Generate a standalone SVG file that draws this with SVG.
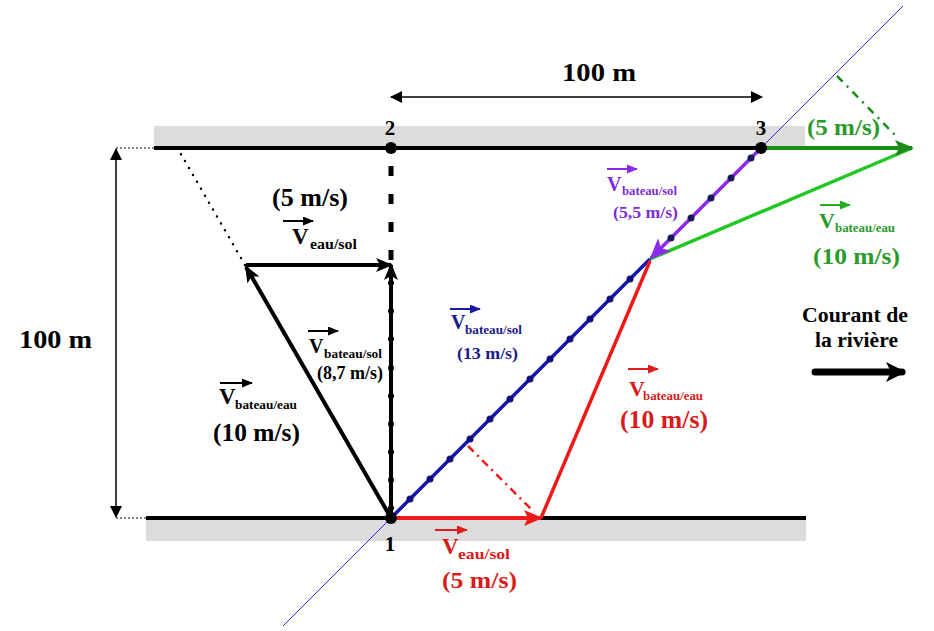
<svg xmlns="http://www.w3.org/2000/svg" width="934" height="631" viewBox="0 0 934 631">
<style>
text{font-family:"Liberation Serif","Times New Roman",serif;font-weight:bold}
.k{fill:#000}.r{fill:#d81c1c}.b{fill:#1a1a8a}.p{fill:#7a2ed6}.g{fill:#2a9a2a}
.bank{fill:#dcdcdc}
.vec{fill:none;stroke-width:4}
.lbl{stroke-width:2}
</style>
<defs>
<marker id="ahK" markerUnits="userSpaceOnUse" markerWidth="17" markerHeight="15" refX="15" refY="7" orient="auto"><path d="M0,0 L17,7 L0,14 L4,7 z" fill="#000"/></marker>
<marker id="ahR" markerUnits="userSpaceOnUse" markerWidth="19" markerHeight="17" refX="17" refY="8" orient="auto"><path d="M0,0 L19,8 L0,16 L4,8 z" fill="#ee1a1a"/></marker>
<marker id="ahP" markerUnits="userSpaceOnUse" markerWidth="21" markerHeight="19" refX="19" refY="9" orient="auto"><path d="M0,0 L21,9 L0,18 L5,9 z" fill="#8a2be8"/></marker>
<marker id="ahG" markerUnits="userSpaceOnUse" markerWidth="19" markerHeight="17" refX="17" refY="8" orient="auto"><path d="M0,0 L19,8 L0,16 L4,8 z" fill="#1a8c1a"/></marker>
<marker id="ahBig" markerUnits="userSpaceOnUse" markerWidth="20" markerHeight="20" refX="16" refY="10" orient="auto"><path d="M0,0 L20,10 L0,20 L5,10 z" fill="#000"/></marker>
<marker id="dim" markerUnits="userSpaceOnUse" markerWidth="12" markerHeight="12" refX="11" refY="6" orient="auto-start-reverse"><path d="M0,0 L12,6 L0,12 z" fill="#000"/></marker>
<marker id="smK" markerUnits="userSpaceOnUse" markerWidth="11" markerHeight="9" refX="10" refY="4.5" orient="auto"><path d="M0,0 L11,4.5 L0,9 z" fill="#000"/></marker>
<marker id="smR" markerUnits="userSpaceOnUse" markerWidth="11" markerHeight="9" refX="10" refY="4.5" orient="auto"><path d="M0,0 L11,4.5 L0,9 z" fill="#e01c1c"/></marker>
<marker id="smB" markerUnits="userSpaceOnUse" markerWidth="11" markerHeight="9" refX="10" refY="4.5" orient="auto"><path d="M0,0 L11,4.5 L0,9 z" fill="#1a1aa0"/></marker>
<marker id="smP" markerUnits="userSpaceOnUse" markerWidth="11" markerHeight="9" refX="10" refY="4.5" orient="auto"><path d="M0,0 L11,4.5 L0,9 z" fill="#8a2be8"/></marker>
<marker id="smG" markerUnits="userSpaceOnUse" markerWidth="11" markerHeight="9" refX="10" refY="4.5" orient="auto"><path d="M0,0 L11,4.5 L0,9 z" fill="#22b022"/></marker>
</defs>

<g id="banks">
<rect class="bank" x="154" y="126" width="651" height="22"/>
<rect class="bank" x="146" y="518" width="660" height="23"/>
<line x1="154" y1="148" x2="761" y2="148" stroke="#000" stroke-width="4"/>
<line x1="146" y1="518" x2="806" y2="518" stroke="#000" stroke-width="4"/>
</g>

<g id="dimensions">
<line x1="116" y1="148" x2="154" y2="148" stroke="#000" stroke-width="1" stroke-dasharray="2 2"/>
<line x1="116" y1="518" x2="146" y2="518" stroke="#000" stroke-width="1" stroke-dasharray="2 2"/>
<line x1="116" y1="149" x2="116" y2="517" stroke="#000" stroke-width="1.5" marker-start="url(#dim)" marker-end="url(#dim)"/>
<line x1="391" y1="97" x2="762" y2="97" stroke="#000" stroke-width="1.5" marker-start="url(#dim)" marker-end="url(#dim)"/>
<text x="562" y="81" font-size="25" textLength="74" lengthAdjust="spacingAndGlyphs">100 m</text>
<text x="19" y="348" font-size="25" textLength="73" lengthAdjust="spacingAndGlyphs">100 m</text>
</g>

<g id="connectors">
<line x1="283" y1="626" x2="903" y2="6" stroke="#2a2ad0" stroke-width="1"/>
<line x1="245" y1="265" x2="178" y2="149" stroke="#000" stroke-width="2.5" stroke-dasharray="0 8" stroke-linecap="round"/>
<line x1="391" y1="260" x2="391" y2="150" stroke="#000" stroke-width="5" stroke-dasharray="10 18"/>
<line class="vec" x1="391" y1="518" x2="246" y2="267" stroke="#000" marker-end="url(#ahK)"/>
<line class="vec" x1="246" y1="265" x2="391" y2="265" stroke="#000" marker-end="url(#ahK)"/>
<line class="vec" x1="391" y1="518" x2="391" y2="265" stroke="#000" marker-end="url(#ahK)"/>
<g fill="#000">
<circle cx="391" cy="283" r="3"/><circle cx="391" cy="311" r="3"/><circle cx="391" cy="339" r="3"/><circle cx="391" cy="368" r="3"/><circle cx="391" cy="396" r="3"/><circle cx="391" cy="424" r="3"/><circle cx="391" cy="452" r="3"/><circle cx="391" cy="480" r="3"/><circle cx="391" cy="508" r="3"/>
</g>
<line x1="391" y1="518" x2="650" y2="259" stroke="#1515b0" stroke-width="3.5"/>
<g fill="#10107a">
<circle cx="410" cy="499" r="3.5"/><circle cx="430" cy="479" r="3.5"/><circle cx="450" cy="459" r="3.5"/><circle cx="470" cy="439" r="3.5"/><circle cx="490" cy="419" r="3.5"/><circle cx="510" cy="399" r="3.5"/><circle cx="530" cy="379" r="3.5"/><circle cx="550" cy="359" r="3.5"/><circle cx="570" cy="339" r="3.5"/><circle cx="590" cy="319" r="3.5"/><circle cx="610" cy="299" r="3.5"/><circle cx="630" cy="279" r="3.5"/>
</g>
<line x1="468" y1="446" x2="534" y2="512" stroke="#ee1a1a" stroke-width="2.5" stroke-dasharray="8 5 2 5"/>
<line x1="541" y1="518" x2="650" y2="261" stroke="#ee1a1a" stroke-width="3.5"/>
<line class="vec" x1="393" y1="518" x2="541" y2="518" stroke="#ee1a1a" marker-end="url(#ahR)"/>
<line x1="650" y1="259" x2="912" y2="148" stroke="#22c822" stroke-width="3.5"/>
<line x1="837" y1="76" x2="896" y2="136" stroke="#1a8c1a" stroke-width="2.5" stroke-dasharray="8 6 2 6"/>
<line class="vec" x1="761" y1="148" x2="912" y2="148" stroke="#1a8c1a" marker-end="url(#ahG)"/>
<line x1="761" y1="148" x2="651" y2="258" stroke="#8a2be8" stroke-width="3.5" marker-end="url(#ahP)"/>
<g fill="#1a1a5a">
<circle cx="751" cy="158" r="3.5"/><circle cx="731" cy="178" r="3.5"/><circle cx="711" cy="198" r="3.5"/><circle cx="691" cy="218" r="3.5"/><circle cx="671" cy="238" r="3.5"/>
</g>
</g>

<g id="point1"><circle cx="391" cy="518" r="6" fill="#000"/><text class="k" x="390" y="551" font-size="21" text-anchor="middle">1</text></g>
<g id="point2"><circle cx="391" cy="148" r="6" fill="#000"/><text class="k" x="390" y="135" font-size="21" text-anchor="middle">2</text></g>
<g id="point3"><circle cx="761" cy="148" r="6" fill="#000"/><text class="k" x="761" y="135" font-size="21" text-anchor="middle">3</text></g>

<g id="label-black-eausol">
<text class="k" x="272" y="206" font-size="25" textLength="76" lengthAdjust="spacingAndGlyphs">(5 m/s)</text>
<line class="lbl" x1="283" y1="221" x2="313" y2="221" stroke="#000" marker-end="url(#smK)"/>
<text class="k" x="292" y="244" font-size="23">V</text>
<text class="k" x="310" y="249" font-size="14" textLength="47" lengthAdjust="spacingAndGlyphs">eau/sol</text>
</g>

<g id="label-black-bateausol">
<line class="lbl" x1="308" y1="331" x2="338" y2="331" stroke="#000" marker-end="url(#smK)"/>
<text class="k" x="309" y="353" font-size="20">V</text>
<text class="k" x="324" y="358" font-size="12" textLength="58" lengthAdjust="spacingAndGlyphs">bateau/sol</text>
<text class="k" x="317" y="379" font-size="18" textLength="66" lengthAdjust="spacingAndGlyphs">(8,7 m/s)</text>
</g>

<g id="label-black-bateaueau">
<line class="lbl" x1="220" y1="383" x2="252" y2="383" stroke="#000" marker-end="url(#smK)"/>
<text class="k" x="219" y="404" font-size="23">V</text>
<text class="k" x="235" y="409" font-size="13" textLength="62" lengthAdjust="spacingAndGlyphs">bateau/eau</text>
<text class="k" x="213" y="441" font-size="25" textLength="87" lengthAdjust="spacingAndGlyphs">(10 m/s)</text>
</g>

<g id="label-blue-bateausol">
<line class="lbl" x1="450" y1="309" x2="480" y2="309" stroke="#1a1aa0" marker-end="url(#smB)"/>
<text class="b" x="451" y="329" font-size="20">V</text>
<text class="b" x="465" y="334" font-size="12" textLength="57" lengthAdjust="spacingAndGlyphs">bateau/sol</text>
<text class="b" x="457" y="359" font-size="17" textLength="61" lengthAdjust="spacingAndGlyphs">(13 m/s)</text>
</g>

<g id="label-purple-bateausol">
<line class="lbl" x1="607" y1="169" x2="637" y2="169" stroke="#8a2be8" marker-end="url(#smP)"/>
<text class="p" x="607" y="191" font-size="20">V</text>
<text class="p" x="622" y="195" font-size="12" textLength="55" lengthAdjust="spacingAndGlyphs">bateau/sol</text>
<text class="p" x="613" y="218" font-size="17" textLength="65" lengthAdjust="spacingAndGlyphs">(5,5 m/s)</text>
</g>

<g id="label-green-eausol">
<text class="g" x="807" y="135" font-size="24" textLength="73" lengthAdjust="spacingAndGlyphs">(5 m/s)</text>
</g>

<g id="label-green-bateaueau">
<line class="lbl" x1="820" y1="205" x2="850" y2="205" stroke="#22b022" marker-end="url(#smG)"/>
<text class="g" x="819" y="228" font-size="22">V</text>
<text class="g" x="835" y="232" font-size="12" textLength="60" lengthAdjust="spacingAndGlyphs">bateau/eau</text>
<text class="g" x="813" y="264" font-size="24" textLength="87" lengthAdjust="spacingAndGlyphs">(10 m/s)</text>
</g>

<g id="label-red-bateaueau">
<line class="lbl" x1="628" y1="369" x2="658" y2="369" stroke="#e01c1c" marker-end="url(#smR)"/>
<text class="r" x="629" y="396" font-size="22">V</text>
<text class="r" x="643" y="400" font-size="12" textLength="60" lengthAdjust="spacingAndGlyphs">bateau/eau</text>
<text class="r" x="620" y="428" font-size="25" textLength="88" lengthAdjust="spacingAndGlyphs">(10 m/s)</text>
</g>

<g id="label-red-eausol">
<line class="lbl" x1="435" y1="530" x2="467" y2="530" stroke="#e01c1c" marker-end="url(#smR)"/>
<text class="r" x="442" y="554" font-size="23">V</text>
<text class="r" x="458" y="559" font-size="14" textLength="52" lengthAdjust="spacingAndGlyphs">eau/sol</text>
<text class="r" x="442" y="588" font-size="24" textLength="75" lengthAdjust="spacingAndGlyphs">(5 m/s)</text>
</g>

<g id="courant">
<text class="k" x="802" y="322" font-size="20" textLength="106" lengthAdjust="spacingAndGlyphs">Courant de</text>
<text class="k" x="815" y="347" font-size="20" textLength="83" lengthAdjust="spacingAndGlyphs">la rivière</text>
<line x1="815" y1="372" x2="902" y2="372" stroke="#000" stroke-width="7" stroke-linecap="round" marker-end="url(#ahBig)"/>
</g>
</svg>
